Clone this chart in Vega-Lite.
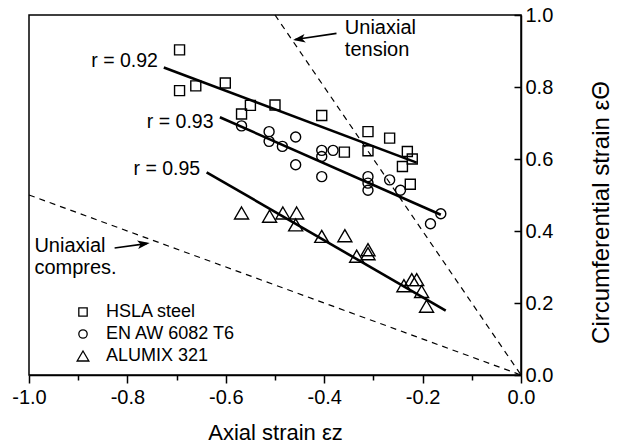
{
  "$schema": "https://vega.github.io/schema/vega-lite/v6.json",
  "width": 492,
  "height": 360,
  "autosize": "none",
  "padding": {"left": 29, "top": 15, "right": 108, "bottom": 73},
  "background": "white",
  "config": {
    "font": "Liberation Sans",
    "view": {"stroke": "black", "strokeWidth": 1.5},
    "axis": {"grid": false, "domainColor": "black", "domainWidth": 1.5, "tickColor": "black", "tickWidth": 1.5, "labelColor": "black", "titleColor": "black", "labelFont": "Liberation Sans", "titleFont": "Liberation Sans", "titleFontWeight": "normal", "labelFlush": false, "labelOverlap": false}
  },
  "datasets": {
    "pts": [
      {"material": "HSLA steel", "x": -0.694, "y": 0.903},
      {"material": "HSLA steel", "x": -0.694, "y": 0.790},
      {"material": "HSLA steel", "x": -0.661, "y": 0.803},
      {"material": "HSLA steel", "x": -0.601, "y": 0.811},
      {"material": "HSLA steel", "x": -0.568, "y": 0.725},
      {"material": "HSLA steel", "x": -0.550, "y": 0.749},
      {"material": "HSLA steel", "x": -0.500, "y": 0.750},
      {"material": "HSLA steel", "x": -0.405, "y": 0.721},
      {"material": "HSLA steel", "x": -0.359, "y": 0.619},
      {"material": "HSLA steel", "x": -0.311, "y": 0.676},
      {"material": "HSLA steel", "x": -0.311, "y": 0.623},
      {"material": "HSLA steel", "x": -0.267, "y": 0.658},
      {"material": "HSLA steel", "x": -0.231, "y": 0.621},
      {"material": "HSLA steel", "x": -0.221, "y": 0.600},
      {"material": "HSLA steel", "x": -0.241, "y": 0.579},
      {"material": "HSLA steel", "x": -0.225, "y": 0.530},
      {"material": "EN AW 6082 T6", "x": -0.568, "y": 0.692},
      {"material": "EN AW 6082 T6", "x": -0.512, "y": 0.676},
      {"material": "EN AW 6082 T6", "x": -0.512, "y": 0.649},
      {"material": "EN AW 6082 T6", "x": -0.485, "y": 0.635},
      {"material": "EN AW 6082 T6", "x": -0.458, "y": 0.661},
      {"material": "EN AW 6082 T6", "x": -0.458, "y": 0.584},
      {"material": "EN AW 6082 T6", "x": -0.405, "y": 0.624},
      {"material": "EN AW 6082 T6", "x": -0.405, "y": 0.607},
      {"material": "EN AW 6082 T6", "x": -0.382, "y": 0.624},
      {"material": "EN AW 6082 T6", "x": -0.405, "y": 0.551},
      {"material": "EN AW 6082 T6", "x": -0.311, "y": 0.551},
      {"material": "EN AW 6082 T6", "x": -0.311, "y": 0.533},
      {"material": "EN AW 6082 T6", "x": -0.311, "y": 0.513},
      {"material": "EN AW 6082 T6", "x": -0.267, "y": 0.542},
      {"material": "EN AW 6082 T6", "x": -0.245, "y": 0.513},
      {"material": "EN AW 6082 T6", "x": -0.163, "y": 0.448},
      {"material": "EN AW 6082 T6", "x": -0.184, "y": 0.420},
      {"material": "ALUMIX 321", "x": -0.568, "y": 0.450},
      {"material": "ALUMIX 321", "x": -0.511, "y": 0.441},
      {"material": "ALUMIX 321", "x": -0.484, "y": 0.450},
      {"material": "ALUMIX 321", "x": -0.456, "y": 0.450},
      {"material": "ALUMIX 321", "x": -0.458, "y": 0.417},
      {"material": "ALUMIX 321", "x": -0.405, "y": 0.385},
      {"material": "ALUMIX 321", "x": -0.358, "y": 0.387},
      {"material": "ALUMIX 321", "x": -0.334, "y": 0.330},
      {"material": "ALUMIX 321", "x": -0.311, "y": 0.348},
      {"material": "ALUMIX 321", "x": -0.311, "y": 0.337},
      {"material": "ALUMIX 321", "x": -0.238, "y": 0.248},
      {"material": "ALUMIX 321", "x": -0.222, "y": 0.265},
      {"material": "ALUMIX 321", "x": -0.212, "y": 0.265},
      {"material": "ALUMIX 321", "x": -0.202, "y": 0.232},
      {"material": "ALUMIX 321", "x": -0.192, "y": 0.191}
    ],
    "fits": [
      {"series": "HSLA steel", "x": -0.726, "y": 0.854, "x2": -0.212, "y2": 0.590},
      {"series": "EN AW 6082 T6", "x": -0.612, "y": 0.716, "x2": -0.163, "y2": 0.445},
      {"series": "ALUMIX 321", "x": -0.639, "y": 0.563, "x2": -0.153, "y2": 0.179}
    ],
    "limits": [
      {"case": "Uniaxial tension", "x": -0.5, "y": 1.0, "x2": 0.0, "y2": 0.0},
      {"case": "Uniaxial compression", "x": -1.0, "y": 0.5, "x2": 0.0, "y2": 0.0}
    ],
    "rlabels": [
      {"text": "r = 0.92", "x": -0.738, "y": 0.871},
      {"text": "r = 0.93", "x": -0.625, "y": 0.703},
      {"text": "r = 0.95", "x": -0.652, "y": 0.571}
    ],
    "notes": [
      {"text": "Uniaxial", "x": -0.358, "y": 0.963},
      {"text": "tension", "x": -0.358, "y": 0.902},
      {"text": "Uniaxial", "x": -0.989, "y": 0.359},
      {"text": "compres.", "x": -0.989, "y": 0.298}
    ],
    "shafts": [
      {"arrow": "tension", "x": -0.375, "y": 0.949, "x2": -0.459, "y2": 0.932},
      {"arrow": "compression", "x": -0.826, "y": 0.353, "x2": -0.761, "y2": 0.365}
    ],
    "heads": [
      {"arrow": "tension", "x": -0.451, "y": 0.933},
      {"arrow": "compression", "x": -0.767, "y": 0.3645}
    ]
  },
  "encoding": {
    "x": {
      "field": "x", "type": "quantitative",
      "scale": {"domain": [-1, 0], "nice": false, "zero": false},
      "axis": {
        "orient": "bottom",
        "values": [-1, -0.9, -0.8, -0.7, -0.6, -0.5, -0.4, -0.3, -0.2, -0.1, 0],
        "labelExpr": "round(datum.value*10) % 2 == 0 ? (datum.value < -0.001 ? '-' + format(-datum.value, '.1f') : format(abs(datum.value), '.1f')) : ''",
        "tickSize": {"condition": {"test": "round(datum.value*10) % 2 != 0", "value": 5}, "value": 8},
        "labelFontSize": 20,
        "labelPadding": 4,
        "title": "Axial strain εz",
        "titleFontSize": 22,
        "titlePadding": 15
      }
    },
    "y": {
      "field": "y", "type": "quantitative",
      "scale": {"domain": [0, 1], "nice": false, "zero": false},
      "axis": {
        "orient": "right",
        "values": [0, 0.2, 0.4, 0.6, 0.8, 1.0],
        "format": ".1f",
        "tickSize": -7,
        "labelFontSize": 20,
        "labelPadding": 11,
        "title": "Circumferential strain εΘ",
        "titleFontSize": 24,
        "titleAngle": 270,
        "titlePadding": 61,
        "titleY": 197
      }
    }
  },
  "layer": [
    {
      "data": {"name": "limits"},
      "mark": {"type": "rule", "color": "black", "strokeWidth": 1.2, "strokeDash": [6, 5]},
      "encoding": {"x2": {"field": "x2"}, "y2": {"field": "y2"}}
    },
    {
      "data": {"name": "fits"},
      "mark": {"type": "rule", "color": "black", "strokeWidth": 2.6},
      "encoding": {"x2": {"field": "x2"}, "y2": {"field": "y2"}}
    },
    {
      "data": {"name": "shafts"},
      "mark": {"type": "rule", "color": "black", "strokeWidth": 1.6},
      "encoding": {"x2": {"field": "x2"}, "y2": {"field": "y2"}}
    },
    {
      "data": {"name": "heads"},
      "transform": [{"filter": "datum.arrow == 'tension'"}],
      "mark": {"type": "point", "shape": "M0,-1L0.7,1L0,0.5L-0.7,1Z", "filled": true, "color": "black", "size": 150, "angle": 261, "opacity": 1}
    },
    {
      "data": {"name": "heads"},
      "transform": [{"filter": "datum.arrow == 'compression'"}],
      "mark": {"type": "point", "shape": "M0,-1L0.7,1L0,0.5L-0.7,1Z", "filled": true, "color": "black", "size": 150, "angle": 82, "opacity": 1}
    },
    {
      "data": {"name": "rlabels"},
      "mark": {"type": "text", "align": "right", "baseline": "middle", "fontSize": 19.5, "color": "black", "font": "Liberation Sans"},
      "encoding": {"text": {"field": "text"}}
    },
    {
      "data": {"name": "notes"},
      "mark": {"type": "text", "align": "left", "baseline": "middle", "fontSize": 20, "color": "black", "font": "Liberation Sans"},
      "encoding": {"text": {"field": "text"}}
    },
    {
      "data": {"name": "pts"},
      "mark": {"type": "point", "filled": false, "stroke": "black", "strokeWidth": 1.4, "opacity": 1, "size": 100},
      "encoding": {
        "shape": {
          "field": "material", "type": "nominal",
          "scale": {"domain": ["HSLA steel", "EN AW 6082 T6", "ALUMIX 321"], "range": ["square", "circle", "M0,-1.2L1.4,1.2L-1.4,1.2Z"]},
          "legend": {
            "orient": "none", "legendX": 45, "legendY": 288, "title": null,
            "labelFontSize": 18, "labelColor": "black", "labelFont": "Liberation Sans", "labelOffset": 14,
            "symbolStrokeColor": "black", "symbolFillColor": "transparent", "symbolStrokeWidth": 1.3,
            "symbolSize": 70, "rowPadding": 4, "padding": 0
          }
        }
      }
    }
  ]
}
